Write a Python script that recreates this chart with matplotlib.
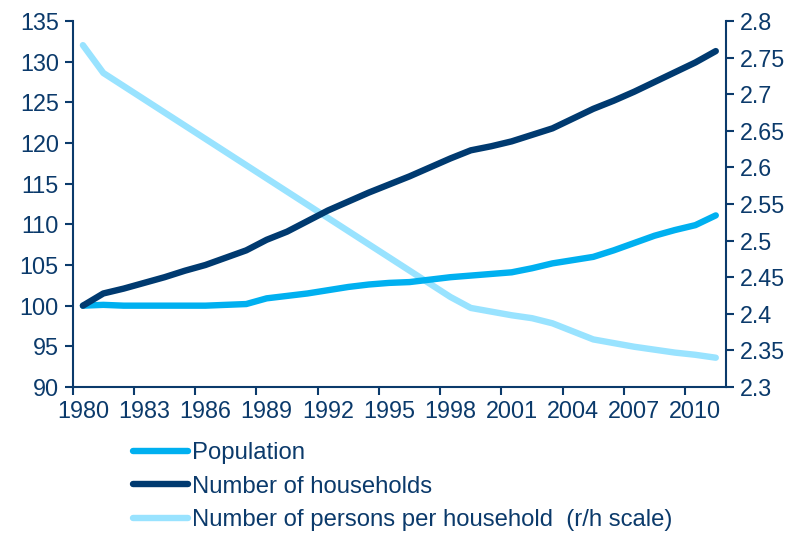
import numpy as np
import matplotlib
matplotlib.use('Agg')
import matplotlib.pyplot as plt
from matplotlib.ticker import FixedLocator, NullFormatter

plt.rcParams['font.family'] = ['Liberation Sans', 'DejaVu Sans']

years = list(range(1980, 2012))
population = [100.0, 100.1, 100.0, 100.0, 100.0, 100.0, 100.0, 100.1, 100.2, 100.9,
              101.2, 101.5, 101.9, 102.3, 102.6, 102.8, 102.9, 103.2, 103.5, 103.7,
              103.9, 104.1, 104.6, 105.2, 105.6, 106.0, 106.8, 107.7, 108.6, 109.3,
              109.9, 111.1]
households = [100.0, 101.5, 102.1, 102.8, 103.5, 104.3, 105.0, 105.9, 106.8, 108.1,
              109.1, 110.4, 111.7, 112.8, 113.9, 114.9, 115.9, 117.0, 118.1, 119.1,
              119.6, 120.2, 121.0, 121.8, 123.0, 124.2, 125.2, 126.3, 127.5, 128.7,
              129.9, 131.3]
persons = [2.767, 2.729, 2.711, 2.693, 2.675, 2.657, 2.639, 2.621, 2.603, 2.585,
           2.567, 2.549, 2.531, 2.513, 2.495, 2.477, 2.459, 2.441, 2.423, 2.408,
           2.403, 2.398, 2.394, 2.387, 2.376, 2.365, 2.360, 2.355, 2.351, 2.347,
           2.344, 2.340]
label_years = years[::3]
labels = ['Population', 'Number of households',
          'Number of persons per household  (r/h scale)']

c_pop = '#00B0F0'
c_hh = '#003A70'
c_pp = '#99E3FF'
c_axis = '#0B3A6B'
fs = 16.8

fig = plt.figure(figsize=(7.96, 5.33), dpi=100)
ax = fig.add_axes([72.7/796, 1 - 387/533, (726 - 72.7)/796, (387 - 21)/533])
ax2 = ax.twinx()

l1, = ax.plot(years, population, color=c_pop, lw=4.6, solid_capstyle='round', solid_joinstyle='round')
l2, = ax.plot(years, households, color=c_hh, lw=4.6, solid_capstyle='round', solid_joinstyle='round')
l3, = ax2.plot(years, persons, color=c_pp, lw=4.6, solid_capstyle='round', solid_joinstyle='round')
ax.set_zorder(ax2.get_zorder() + 1)
ax.patch.set_visible(False)

ax.set_xlim(1979.5, 2011.5)
ax.set_ylim(90, 135)
ax2.set_ylim(2.3, 2.8)
ax.set_yticks(np.arange(90, 136, 5))
ax2.set_yticks(np.arange(2.3, 2.81, 0.05))
ax2.set_yticklabels(['2.3', '2.35', '2.4', '2.45', '2.5', '2.55', '2.6', '2.65', '2.7', '2.75', '2.8'])

# tick marks sit between categories, labels at the category centres
ax.xaxis.set_major_locator(FixedLocator([y - 0.5 for y in label_years]))
ax.xaxis.set_major_formatter(NullFormatter())
ax.xaxis.set_minor_locator(FixedLocator(label_years))
ax.set_xticklabels([str(y) for y in label_years], minor=True)
ax.tick_params(axis='x', which='minor', length=0, pad=9)
ax.tick_params(axis='x', which='major', length=6, width=1.5, color=c_axis)

for a in (ax, ax2):
    for s in a.spines.values():
        s.set_visible(False)
    a.tick_params(axis='both', which='both', labelsize=fs, labelcolor=c_axis)
    a.tick_params(axis='y', length=6, width=1.5, color=c_axis, pad=4)
ax.spines['left'].set_visible(True)
ax.spines['bottom'].set_visible(True)
ax2.spines['right'].set_visible(True)
for s in (ax.spines['left'], ax.spines['bottom'], ax2.spines['right']):
    s.set_color(c_axis)
    s.set_linewidth(1.5)

leg = fig.legend([l1, l2, l3], labels, loc='upper left',
                 bbox_to_anchor=(133/796, 1 - 442/533), frameon=False,
                 fontsize=17.2, handlelength=2.3, handletextpad=0.17,
                 labelspacing=0.49, borderaxespad=0, borderpad=0)
for t in leg.get_texts():
    t.set_color(c_axis)

fig.savefig('out.png', dpi=100)
